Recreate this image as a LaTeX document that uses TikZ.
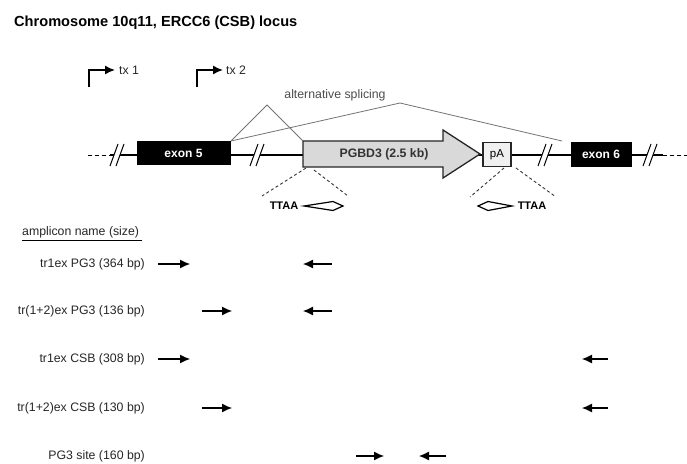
\documentclass[tikz,border=0pt]{standalone}
\usepackage{fontspec}
\setmainfont{Liberation Sans}
\usetikzlibrary{arrows.meta}
\begin{document}
\begin{tikzpicture}[x=1pt,y=-1pt,
  lbl/.style={font=\fontsize{12.3}{14}\selectfont, inner sep=0pt, text=black!85},
  exonbox/.style={draw=black, fill=black, text=white, font=\bfseries\fontsize{12}{14}\selectfont, line width=1pt, inner sep=0pt},
  primer/.style={line width=1.1pt, -{Latex[length=10pt,width=9pt]}},
  txarrow/.style={line width=1.5pt, -{Latex[length=10pt,width=9pt]}},
  splice/.style={draw=black!55, line width=0.8pt},
  ttaadash/.style={dashed, dash pattern=on 3pt off 2.5pt, line width=0.9pt, draw=black!80},
  brk/.pic={\fill[white] (-8,11)--(0,-11)--(6,-11)--(-2,11)--cycle;
            \draw[line width=1pt] (-8,11)--(0,-11);
            \draw[line width=1pt] (-2,11)--(6,-11);}
]
\useasboundingbox (0,0) rectangle (687,463);

% title
\node[anchor=west, inner sep=0pt, font=\bfseries\fontsize{14.6}{16}\selectfont] (title) at (14,23) {Chromosome 10q11, ERCC6 (CSB) locus};

% transcription starts
\coordinate (tx1b) at (89,87); \coordinate (tx1c) at (89,70); \coordinate (tx1e) at (115,70);
\draw[txarrow] (tx1b) -- (tx1c) -- (tx1e);
\node[lbl, anchor=west] (tx1) at (119,70) {tx 1};
\coordinate (tx2b) at (197,87); \coordinate (tx2c) at (197,70); \coordinate (tx2e) at (223,70);
\draw[txarrow] (tx2b) -- (tx2c) -- (tx2e);
\node[lbl, anchor=west] (tx2) at (226,70) {tx 2};

% main line
\coordinate (Lstart) at (88,155); \coordinate (L1) at (110,155);
\coordinate (L2) at (663,155); \coordinate (Lend) at (687,155);
\draw[line width=1pt, dashed, dash pattern=on 4pt off 3pt] (Lstart) -- (L1);
\draw[line width=1.3pt] (L1) -- (L2);
\draw[line width=1pt, dashed, dash pattern=on 4pt off 3pt] (L2) -- (Lend);

% breaks
\pic at (118,155) {brk};
\pic at (258,155) {brk};
\pic at (546,155) {brk};
\pic at (651,155) {brk};

% exons
\node[exonbox, minimum width=93pt, minimum height=23pt] (ex5) at (183.5,153) {exon 5};
\node[exonbox, minimum width=60pt, minimum height=24pt] (ex6) at (601,154) {exon 6};

% PGBD3 arrow
\fill[gray!30] (303,141) -- (443,141) -- (443,130) -- (480,154) -- (443,178) -- (443,167) -- (303,167) -- cycle;
\draw[line width=1.3pt, draw=black!85] (303,141) -- (443,141) -- (443,130) -- (480,154) -- (443,178) -- (443,167) -- (303,167) -- cycle;
\node[inner sep=0pt, font=\bfseries\fontsize{12.3}{14}\selectfont, text=black!80] (pg) at (384,154) {PGBD3 (2.5 kb)};

% pA
\node[draw=black!85, fill=gray!12, line width=1.2pt, minimum width=28pt, minimum height=24pt, inner sep=0pt, font=\fontsize{11.5}{13}\selectfont] (pA) at (497,154.5) {pA};

% alternative splicing
\node[lbl, text=black!70] (alt) at (335,95) {alternative splicing};
\coordinate (sp0) at (231,141);
\coordinate (spA) at (267,105); \coordinate (spB) at (303,141);
\coordinate (spC) at (400,103); \coordinate (spD) at (562,141);
\draw[splice] (sp0) -- (spA) -- (spB);
\draw[splice] (sp0) -- (spC) -- (spD);

% TTAA insertion sites
\coordinate (t1a) at (306,168); \coordinate (t1l) at (262,196);
\coordinate (t1b) at (314,170); \coordinate (t1r) at (348,196);
\draw[ttaadash] (t1a) -- (t1l);
\draw[ttaadash] (t1b) -- (t1r);
\node[inner sep=0pt, font=\bfseries\fontsize{11}{12}\selectfont] (ttaa1) at (284,206) {TTAA};
\draw[line width=1.2pt, fill=white] (304,206) -- (333,201.5) -- (343,206) -- (333,210.5) -- cycle;

\coordinate (t2a) at (504,168); \coordinate (t2l) at (470,197);
\coordinate (t2b) at (516,168); \coordinate (t2r) at (556,197);
\draw[ttaadash] (t2a) -- (t2l);
\draw[ttaadash] (t2b) -- (t2r);
\node[inner sep=0pt, font=\bfseries\fontsize{11}{12}\selectfont] (ttaa2) at (532,206) {TTAA};
\draw[line width=1.2pt, fill=white] (478,206) -- (488,201.5) -- (512,206) -- (488,210.5) -- cycle;

% amplicons
\node[lbl, anchor=west] (hdr) at (22,232) {amplicon name (size)};
\draw[line width=0.8pt] (hdr.south west) ++(0,2.5) -- ++(120,0);

\node[lbl, anchor=east] (r1) at (145,264) {tr1ex PG3 (364 bp)};
\node[lbl, anchor=east] (r2) at (145,311) {tr(1+2)ex PG3 (136 bp)};
\node[lbl, anchor=east] (r3) at (145,359) {tr1ex CSB (308 bp)};
\node[lbl, anchor=east] (r4) at (145,408) {tr(1+2)ex CSB (130 bp)};
\node[lbl, anchor=east] (r5) at (145,456) {PG3 site (160 bp)};

\coordinate (f1a) at (158,264); \coordinate (f1b) at (190,264);
\coordinate (v1a) at (332,264); \coordinate (v1b) at (303,264);
\draw[primer] (f1a) -- (f1b); \draw[primer] (v1a) -- (v1b);

\coordinate (f2a) at (202,311); \coordinate (f2b) at (232,311);
\coordinate (v2a) at (332,311); \coordinate (v2b) at (303,311);
\draw[primer] (f2a) -- (f2b); \draw[primer] (v2a) -- (v2b);

\coordinate (f3a) at (158,359); \coordinate (f3b) at (190,359);
\coordinate (v3a) at (608,359); \coordinate (v3b) at (582,359);
\draw[primer] (f3a) -- (f3b); \draw[primer] (v3a) -- (v3b);

\coordinate (f4a) at (202,408); \coordinate (f4b) at (232,408);
\coordinate (v4a) at (608,408); \coordinate (v4b) at (582,408);
\draw[primer] (f4a) -- (f4b); \draw[primer] (v4a) -- (v4b);

\coordinate (f5a) at (356,456); \coordinate (f5b) at (384,456);
\coordinate (v5a) at (446,456); \coordinate (v5b) at (419,456);
\draw[primer] (f5a) -- (f5b); \draw[primer] (v5a) -- (v5b);
\end{tikzpicture}
\end{document}
